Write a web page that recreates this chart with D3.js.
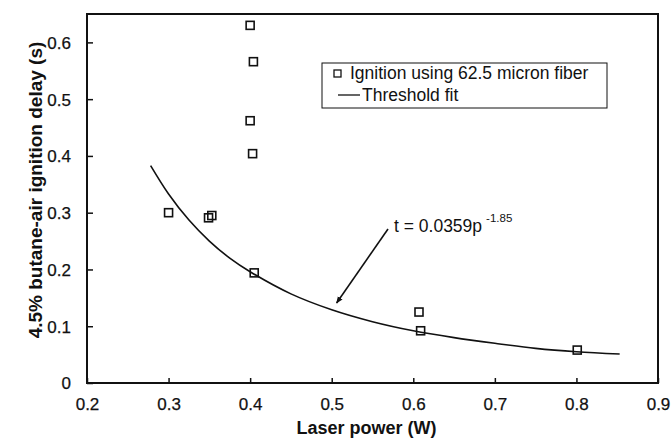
<!DOCTYPE html>
<html>
<head>
<meta charset="utf-8">
<script src="https://cdn.jsdelivr.net/npm/d3@7"></script>
<style>
html,body{margin:0;padding:0;background:#fff;}
svg{display:block;font-family:"Liberation Sans",Arial,Helvetica,sans-serif;}
</style>
</head>
<body>
<svg id="chart" width="671" height="440"></svg>
<script>
// Measured ignition delays (laser power W, delay s)
const powerW = [0.30, 0.349, 0.353, 0.400, 0.404, 0.400, 0.403, 0.405, 0.607, 0.609, 0.801];
const delayS = [0.300, 0.291, 0.295, 0.630, 0.566, 0.462, 0.404, 0.194, 0.125, 0.092, 0.058];

// Threshold fit curve
const fitP = [0.278, 0.30, 0.325, 0.35, 0.375, 0.40, 0.45, 0.50, 0.55, 0.60, 0.65, 0.70, 0.75, 0.80, 0.853];
const fitT = [0.383, 0.333, 0.287, 0.250, 0.220, 0.196, 0.157, 0.129, 0.108, 0.092, 0.080, 0.070, 0.061, 0.055, 0.051];

const xTicks = [0.2, 0.3, 0.4, 0.5, 0.6, 0.7, 0.8, 0.9];
const yTicks = [0, 0.1, 0.2, 0.3, 0.4, 0.5, 0.6];

const legendLabels = ["Ignition using 62.5 micron fiber", "Threshold fit"];
const xTitle = "Laser power (W)";
const yTitle = "4.5% butane-air ignition delay (s)";
const fitLabel = "t = 0.0359p";
const fitExp = "-1.85";
const arrowTarget = [0.506, 0.141];

const svg = d3.select("#chart");
const L = 87, R = 658, T = 14, B = 383;
const x = d3.scaleLinear().domain([0.2, 0.9]).range([L, R]);
const y = d3.scaleLinear().domain([0, 0.65]).range([B, T]);
const ink = "#111";

// axes
const fmt = d => d === 0 ? "0" : d3.format(".1f")(d);
const gx = svg.append("g").attr("transform", `translate(0,${B})`)
  .call(d3.axisBottom(x).tickValues(xTicks).tickSize(-5).tickPadding(15).tickFormat(fmt));
const gy = svg.append("g").attr("transform", `translate(${L},0)`)
  .call(d3.axisLeft(y).tickValues(yTicks).tickSize(-6).tickPadding(16).tickFormat(fmt));
[gx, gy].forEach(g => {
  g.select(".domain").remove();
  g.selectAll("line").attr("stroke", ink).attr("stroke-width", 1.5);
  g.selectAll("text").attr("font-size", 17).attr("fill", ink)
    .attr("stroke", ink).attr("stroke-width", 0.25)
    .attr("font-family", '"Liberation Sans",Arial,sans-serif');
});
gy.selectAll("text").attr("dy", "0.35em");

// frame
svg.append("rect").attr("x", L).attr("y", T).attr("width", R - L).attr("height", B - T)
  .attr("fill", "none").attr("stroke", ink).attr("stroke-width", 2);

// fit curve
const line = d3.line().x((d, i) => x(fitP[i])).y((d, i) => y(fitT[i])).curve(d3.curveCatmullRom);
svg.append("path").datum(fitP).attr("d", line)
  .attr("fill", "none").attr("stroke", ink).attr("stroke-width", 1.6);

// markers
const s = 8;
svg.append("g").selectAll("rect").data(powerW).join("rect")
  .attr("x", (d, i) => x(d) - s / 2).attr("y", (d, i) => y(delayS[i]) - s / 2)
  .attr("width", s).attr("height", s)
  .attr("fill", "none").attr("stroke", ink).attr("stroke-width", 1.6);

// legend
const lg = svg.append("g");
lg.append("rect").attr("x", 322).attr("y", 63).attr("width", 285).attr("height", 45)
  .attr("fill", "#fff").attr("stroke", ink).attr("stroke-width", 1);
lg.append("rect").attr("x", 334).attr("y", 70).attr("width", 7).attr("height", 7)
  .attr("fill", "none").attr("stroke", ink).attr("stroke-width", 1.3);
lg.append("text").attr("x", 350).attr("y", 79).attr("font-size", 17.5).attr("fill", ink)
  .text(legendLabels[0]);
lg.append("line").attr("x1", 338).attr("x2", 360).attr("y1", 95).attr("y2", 95)
  .attr("stroke", ink).attr("stroke-width", 1.3);
lg.append("text").attr("x", 362).attr("y", 101).attr("font-size", 17.5).attr("fill", ink)
  .text(legendLabels[1]);

// annotation
svg.append("defs").append("marker").attr("id", "ah").attr("viewBox", "0 0 10 10")
  .attr("refX", 9).attr("refY", 5).attr("markerWidth", 7).attr("markerHeight", 7)
  .attr("orient", "auto").attr("markerUnits", "userSpaceOnUse")
  .append("path").attr("d", "M0,1 L10,5 L0,9 Z").attr("fill", ink);
svg.append("line").attr("x1", 388).attr("y1", 229)
  .attr("x2", x(arrowTarget[0])).attr("y2", y(arrowTarget[1]))
  .attr("stroke", ink).attr("stroke-width", 1.6).attr("marker-end", "url(#ah)");
const at = svg.append("text").attr("x", 394).attr("y", 232).attr("font-size", 17.5).attr("fill", ink);
at.append("tspan").text(fitLabel);
at.append("tspan").attr("dx", 4).attr("dy", -10).attr("font-size", 11.5).text(fitExp);

// axis titles
svg.append("text").attr("x", (L + R) / 2 - 6).attr("y", 434).attr("text-anchor", "middle")
  .attr("font-size", 18).attr("font-weight", "bold").attr("fill", ink).text(xTitle);
svg.append("text").attr("transform", "translate(42,190) rotate(-90)").attr("text-anchor", "middle")
  .attr("font-size", 19).attr("font-weight", "bold").attr("fill", ink).text(yTitle);
</script>
</body>
</html>
